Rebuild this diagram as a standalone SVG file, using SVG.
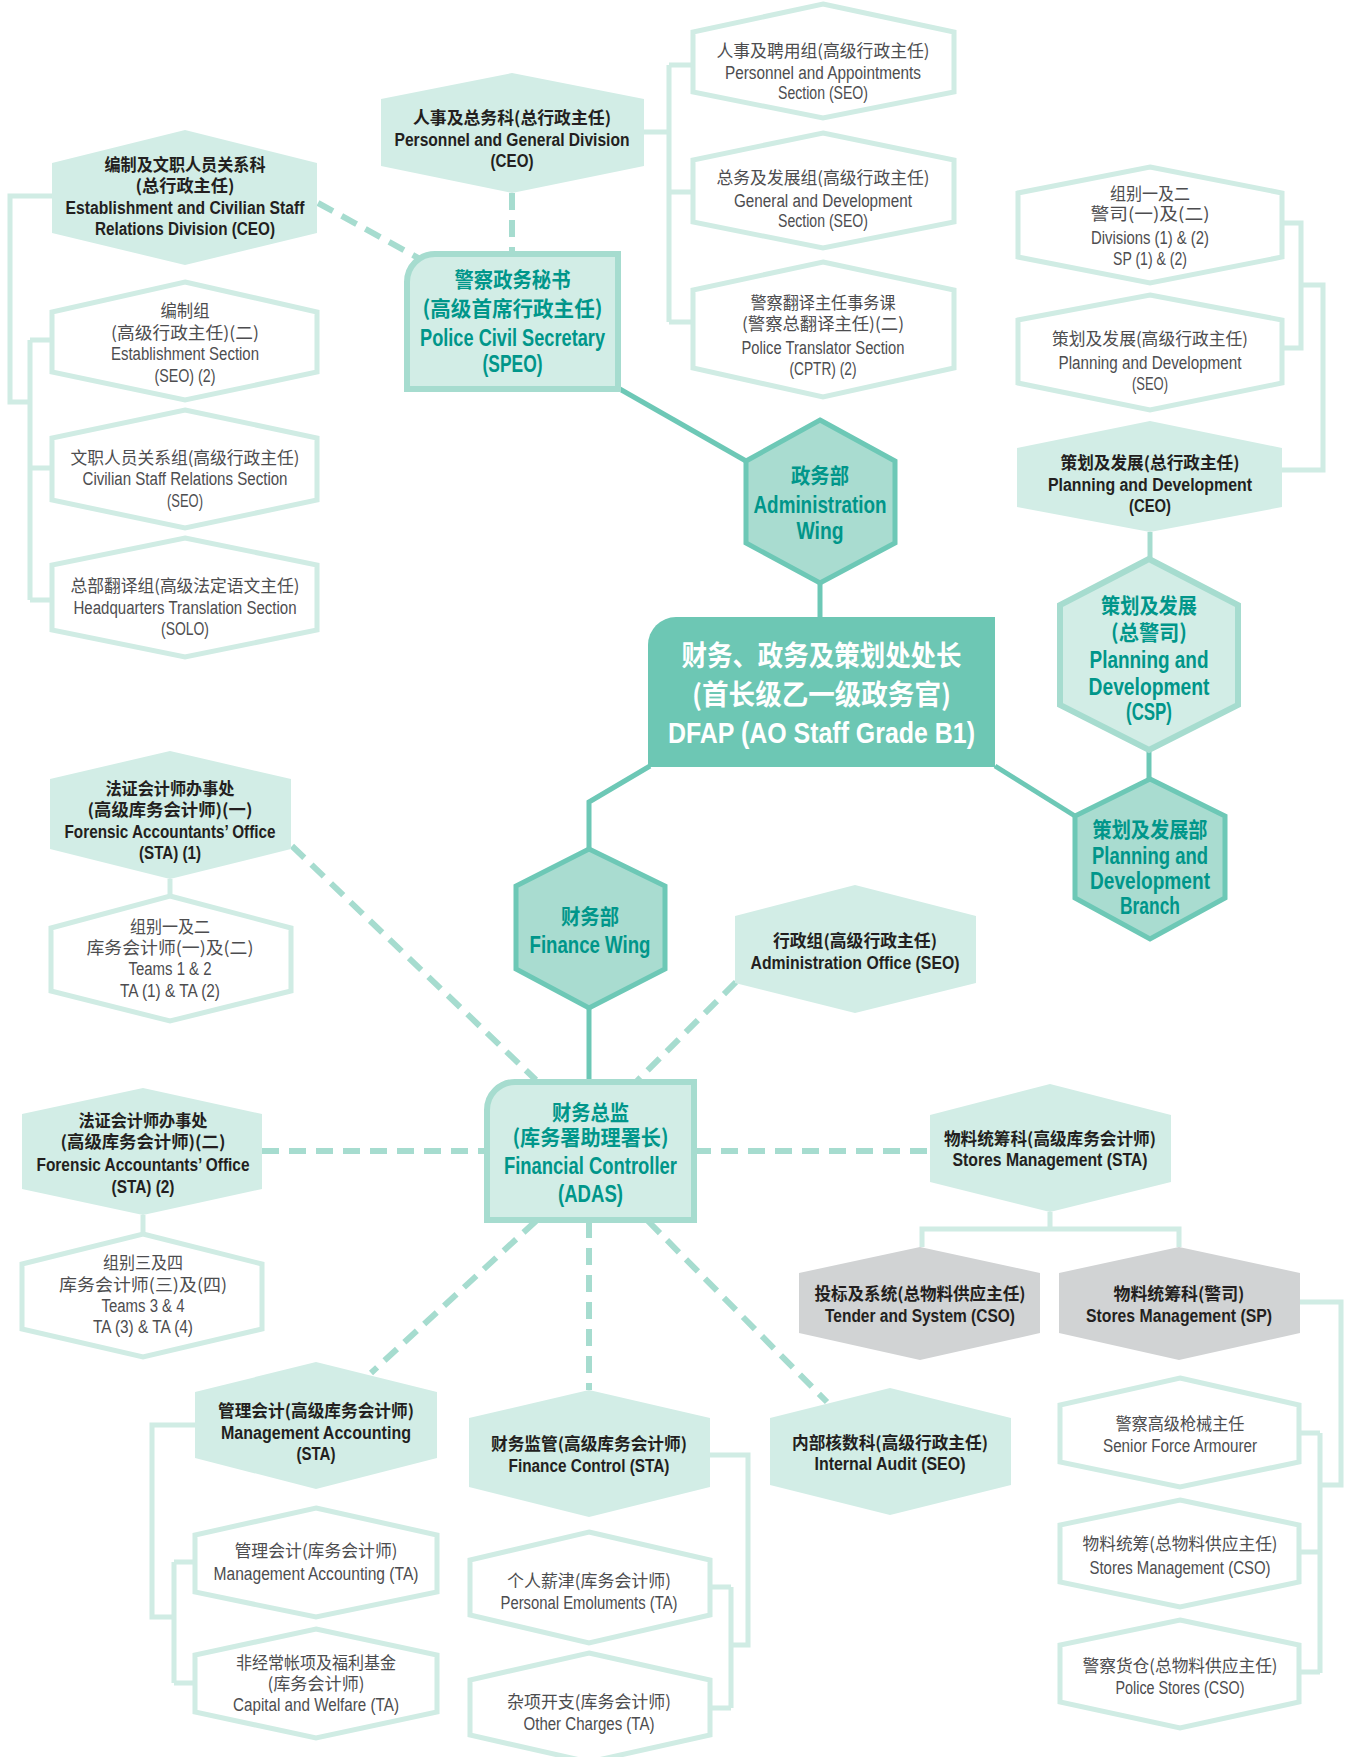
<svg xmlns="http://www.w3.org/2000/svg" width="1349" height="1757" viewBox="0 0 1349 1757">
<style>
text{text-anchor:middle}
.hm{fill:#d2ede6}
.hw{fill:#fff;stroke:#d0ece4;stroke-width:5}
.hg{fill:#d1d3d4}
.wing{fill:#a9dcd0;stroke:#6dc8b6;stroke-width:5}
.box{fill:#d2ede6;stroke:#a6dccf;stroke-width:6}
.top{fill:#6dc7b4}
.solid{fill:none;stroke:#6dc8b6;stroke-width:5}
.lt{fill:none;stroke:#d0ece4;stroke-width:5}
.lm{fill:none;stroke:#a6dccf;stroke-width:5}
.dash{fill:none;stroke:#a6dccf;stroke-width:6;stroke-dasharray:17 10}
.cb{font-family:"Noto Sans CJK SC",sans-serif;font-weight:700;font-size:17px;fill:#231f20}
.eb{font-family:"Liberation Sans Narrow","Liberation Sans",sans-serif;font-weight:700;font-size:18px;fill:#231f20}
.cr{font-family:"Noto Sans CJK SC",sans-serif;font-weight:400;font-size:17px;fill:#4d4d4f}
.er{font-family:"Liberation Sans Narrow","Liberation Sans",sans-serif;font-weight:400;font-size:18px;fill:#4d4d4f}
.tc{font-family:"Noto Sans CJK SC",sans-serif;font-weight:700;font-size:21px;fill:#00968a}
.te{font-family:"Liberation Sans Narrow","Liberation Sans",sans-serif;font-weight:700;font-size:23px;fill:#00968a}
.dc{font-family:"Noto Sans CJK SC",sans-serif;font-weight:700;font-size:28px;fill:#fff}
.de{font-family:"Liberation Sans Narrow","Liberation Sans",sans-serif;font-weight:700;font-size:30px;fill:#fff}
</style>
<rect width="1349" height="1757" fill="#fff"/>

<g id="connectors">
  <path class="dash" d="M512,193 V254"/>
  <path class="dash" d="M318,203 L420,259"/>
  <path class="solid" d="M618,388 L746,461"/>
  <path class="solid" d="M820,583 V617"/>
  <path class="lt" d="M644,132 H669 M669,65 V322 M669,65 H693 M669,192 H693 M669,322 H693"/>
  <path class="lt" d="M52,196 H10 V402 H30 M30,340 V600 M30,340 H52 M30,468 H52 M30,600 H52"/>
  <path class="lt" d="M1282,223 H1301 V348 H1282 M1301,285 H1323 V470 H1282"/>
  <path class="lm" d="M1150,532 V559"/>
  <path class="solid" d="M1149,750 V779"/>
  <path class="solid" d="M995,766 L1075,816"/>
  <path class="solid" d="M650,766 L589,802 V849"/>
  <path class="solid" d="M589,1008 V1082"/>
  <path class="lt" d="M170,879 V896"/>
  <path class="dash" d="M292,846 L536,1080"/>
  <path class="dash" d="M262,1151 H487"/>
  <path class="lt" d="M143,1215 V1234"/>
  <path class="dash" d="M736,982 L636,1082"/>
  <path class="dash" d="M694,1151 H930"/>
  <path class="lt" d="M1050,1212 V1229 M922,1247 V1229 H1179 V1247"/>
  <path class="lt" d="M1300,1302 H1341 V1485 H1320 M1320,1433 V1673 M1299,1433 H1320 M1299,1552 H1320 M1299,1672 H1320"/>
  <path class="dash" d="M648,1221 L827,1402"/>
  <path class="dash" d="M536,1221 L371,1373"/>
  <path class="dash" d="M589,1221 V1390"/>
  <path class="lt" d="M195,1425 H152 V1617 H174 M174,1562 V1683 M174,1562 H195 M174,1683 H195"/>
  <path class="lt" d="M710,1455 H748 V1645 H731 M731,1587 V1708 M710,1587 H731 M710,1708 H731"/>
</g>

<g id="personnel-general-division">
  <polygon class="hm" points="512,73 644,99 644,166 512,193 381,166 381,99"/>
  <text class="cb" x="512" y="123.5" textLength="198" lengthAdjust="spacingAndGlyphs">人事及总务科(总行政主任)</text>
  <text class="eb" x="512" y="145.5" textLength="235" lengthAdjust="spacingAndGlyphs">Personnel and General Division</text>
  <text class="eb" x="512" y="166.5" textLength="43" lengthAdjust="spacingAndGlyphs">(CEO)</text>
</g>

<g id="establishment-division">
  <polygon class="hm" points="185,130 317,163 317,233 185,265 52,233 52,163"/>
  <text class="cb" x="185" y="170.5" textLength="161" lengthAdjust="spacingAndGlyphs">编制及文职人员关系科</text>
  <text class="cb" x="185" y="191.5" textLength="99" lengthAdjust="spacingAndGlyphs">(总行政主任)</text>
  <text class="eb" x="185" y="213.5" textLength="239" lengthAdjust="spacingAndGlyphs">Establishment and Civilian Staff</text>
  <text class="eb" x="185" y="234.5" textLength="180" lengthAdjust="spacingAndGlyphs">Relations Division (CEO)</text>
</g>

<g id="speo">
  <path class="box" d="M407,282 A28,28 0 0 1 435,254 H618 V389 H407 Z"/>
  <text class="tc" x="512.5" y="287" textLength="116" lengthAdjust="spacingAndGlyphs">警察政务秘书</text>
  <text class="tc" x="512.5" y="316" textLength="180" lengthAdjust="spacingAndGlyphs">(高级首席行政主任)</text>
  <text class="te" x="512.5" y="345.5" textLength="185" lengthAdjust="spacingAndGlyphs">Police Civil Secretary</text>
  <text class="te" x="512.5" y="371.5" textLength="60" lengthAdjust="spacingAndGlyphs">(SPEO)</text>
</g>

<g id="admin-wing">
  <polygon class="wing" points="820,420 895,461 895,543 820,583 746,543 746,461"/>
  <text class="tc" x="820" y="483" textLength="58" lengthAdjust="spacingAndGlyphs">政务部</text>
  <text class="te" x="820" y="512.5" textLength="133" lengthAdjust="spacingAndGlyphs">Administration</text>
  <text class="te" x="820" y="538.5" textLength="47" lengthAdjust="spacingAndGlyphs">Wing</text>
</g>

<g id="dfap">
  <path class="top" d="M648,645 A28,28 0 0 1 676,617 H995 V767 H648 Z"/>
  <text class="dc" x="821.5" y="665.5" textLength="280" lengthAdjust="spacingAndGlyphs">财务、政务及策划处处长</text>
  <text class="dc" x="821.5" y="704.5" textLength="259" lengthAdjust="spacingAndGlyphs">(首长级乙一级政务官)</text>
  <text class="de" x="821.5" y="742.5" textLength="307" lengthAdjust="spacingAndGlyphs">DFAP (AO Staff Grade B1)</text>
</g>

<g id="personnel-appointments">
  <polygon class="hw" points="823,4 954,32 954,92 823,118 693,92 693,32"/>
  <text class="cr" x="823" y="56.5" textLength="213" lengthAdjust="spacingAndGlyphs">人事及聘用组(高级行政主任)</text>
  <text class="er" x="823" y="78.5" textLength="196" lengthAdjust="spacingAndGlyphs">Personnel and Appointments</text>
  <text class="er" x="823" y="98.5" textLength="90" lengthAdjust="spacingAndGlyphs">Section (SEO)</text>
</g>

<g id="general-development">
  <polygon class="hw" points="823,133 954,160 954,222 823,248 693,222 693,160"/>
  <text class="cr" x="823" y="183.5" textLength="213" lengthAdjust="spacingAndGlyphs">总务及发展组(高级行政主任)</text>
  <text class="er" x="823" y="206.5" textLength="178" lengthAdjust="spacingAndGlyphs">General and Development</text>
  <text class="er" x="823" y="226.5" textLength="90" lengthAdjust="spacingAndGlyphs">Section (SEO)</text>
</g>

<g id="police-translator">
  <polygon class="hw" points="823,262 954,290 954,368 823,397 693,368 693,290"/>
  <text class="cr" x="823" y="308.5" textLength="145" lengthAdjust="spacingAndGlyphs">警察翻译主任事务课</text>
  <text class="cr" x="823" y="329.5" textLength="162" lengthAdjust="spacingAndGlyphs">(警察总翻译主任)(二)</text>
  <text class="er" x="823" y="353.5" textLength="163" lengthAdjust="spacingAndGlyphs">Police Translator Section</text>
  <text class="er" x="823" y="374.5" textLength="67" lengthAdjust="spacingAndGlyphs">(CPTR) (2)</text>
</g>

<g id="establishment-section">
  <polygon class="hw" points="185,282 317,312 317,372 185,400 52,372 52,312"/>
  <text class="cr" x="185" y="316.5" textLength="49" lengthAdjust="spacingAndGlyphs">编制组</text>
  <text class="cr" x="185" y="338.5" textLength="148" lengthAdjust="spacingAndGlyphs">(高级行政主任)(二)</text>
  <text class="er" x="185" y="359.5" textLength="148" lengthAdjust="spacingAndGlyphs">Establishment Section</text>
  <text class="er" x="185" y="381.5" textLength="61" lengthAdjust="spacingAndGlyphs">(SEO) (2)</text>
</g>

<g id="civilian-staff-relations">
  <polygon class="hw" points="185,410 317,438 317,500 185,528 52,500 52,438"/>
  <text class="cr" x="185" y="463.5" textLength="229" lengthAdjust="spacingAndGlyphs">文职人员关系组(高级行政主任)</text>
  <text class="er" x="185" y="484.5" textLength="205" lengthAdjust="spacingAndGlyphs">Civilian Staff Relations Section</text>
  <text class="er" x="185" y="506.5" textLength="36" lengthAdjust="spacingAndGlyphs">(SEO)</text>
</g>

<g id="hq-translation">
  <polygon class="hw" points="185,538 317,565 317,630 185,657 52,630 52,565"/>
  <text class="cr" x="185" y="591.5" textLength="229" lengthAdjust="spacingAndGlyphs">总部翻译组(高级法定语文主任)</text>
  <text class="er" x="185" y="613.5" textLength="223" lengthAdjust="spacingAndGlyphs">Headquarters Translation Section</text>
  <text class="er" x="185" y="634.5" textLength="48" lengthAdjust="spacingAndGlyphs">(SOLO)</text>
</g>

<g id="divisions">
  <polygon class="hw" points="1150,167 1282,193 1282,257 1150,283 1018,257 1018,193"/>
  <text class="cr" x="1150" y="199.5" textLength="80" lengthAdjust="spacingAndGlyphs">组别一及二</text>
  <text class="cr" x="1150" y="220" textLength="119" lengthAdjust="spacingAndGlyphs">警司(一)及(二)</text>
  <text class="er" x="1150" y="243.5" textLength="118" lengthAdjust="spacingAndGlyphs">Divisions (1) &amp; (2)</text>
  <text class="er" x="1150" y="264.5" textLength="74" lengthAdjust="spacingAndGlyphs">SP (1) &amp; (2)</text>
</g>

<g id="planning-seo">
  <polygon class="hw" points="1150,295 1282,320 1282,383 1150,410 1018,383 1018,320"/>
  <text class="cr" x="1150" y="344.5" textLength="196" lengthAdjust="spacingAndGlyphs">策划及发展(高级行政主任)</text>
  <text class="er" x="1150" y="368.5" textLength="183" lengthAdjust="spacingAndGlyphs">Planning and Development</text>
  <text class="er" x="1150" y="389.5" textLength="36" lengthAdjust="spacingAndGlyphs">(SEO)</text>
</g>

<g id="planning-ceo">
  <polygon class="hm" points="1150,421 1282,448 1282,507 1150,532 1017,507 1017,448"/>
  <text class="cb" x="1150" y="468.5" textLength="179" lengthAdjust="spacingAndGlyphs">策划及发展(总行政主任)</text>
  <text class="eb" x="1150" y="490.5" textLength="204" lengthAdjust="spacingAndGlyphs">Planning and Development</text>
  <text class="eb" x="1150" y="511.5" textLength="42" lengthAdjust="spacingAndGlyphs">(CEO)</text>
</g>

<g id="planning-csp">
  <polygon class="box" points="1149,559 1238,605 1238,705 1149,750 1060,705 1060,605"/>
  <text class="tc" x="1149" y="613" textLength="96" lengthAdjust="spacingAndGlyphs">策划及发展</text>
  <text class="tc" x="1149" y="640" textLength="76" lengthAdjust="spacingAndGlyphs">(总警司)</text>
  <text class="te" x="1149" y="667.5" textLength="119" lengthAdjust="spacingAndGlyphs">Planning and</text>
  <text class="te" x="1149" y="694.5" textLength="121" lengthAdjust="spacingAndGlyphs">Development</text>
  <text class="te" x="1149" y="719.5" textLength="46" lengthAdjust="spacingAndGlyphs">(CSP)</text>
</g>

<g id="planning-branch">
  <polygon class="wing" points="1150,779 1225,816 1225,898 1150,939 1075,898 1075,816"/>
  <text class="tc" x="1150" y="837" textLength="115" lengthAdjust="spacingAndGlyphs">策划及发展部</text>
  <text class="te" x="1150" y="863.5" textLength="116" lengthAdjust="spacingAndGlyphs">Planning and</text>
  <text class="te" x="1150" y="888.5" textLength="120" lengthAdjust="spacingAndGlyphs">Development</text>
  <text class="te" x="1150" y="913.5" textLength="60" lengthAdjust="spacingAndGlyphs">Branch</text>
</g>

<g id="finance-wing">
  <polygon class="wing" points="589,849 665,886 665,969 589,1008 516,969 516,886"/>
  <text class="tc" x="590" y="924" textLength="58" lengthAdjust="spacingAndGlyphs">财务部</text>
  <text class="te" x="590" y="952.5" textLength="121" lengthAdjust="spacingAndGlyphs">Finance Wing</text>
</g>

<g id="financial-controller">
  <path class="box" d="M487,1110 A28,28 0 0 1 515,1082 H694 V1220 H487 Z"/>
  <text class="tc" x="590.5" y="1120" textLength="77" lengthAdjust="spacingAndGlyphs">财务总监</text>
  <text class="tc" x="590.5" y="1145" textLength="156" lengthAdjust="spacingAndGlyphs">(库务署助理署长)</text>
  <text class="te" x="590.5" y="1173.5" textLength="173" lengthAdjust="spacingAndGlyphs">Financial Controller</text>
  <text class="te" x="590.5" y="1201.5" textLength="65" lengthAdjust="spacingAndGlyphs">(ADAS)</text>
</g>

<g id="forensic-1">
  <polygon class="hm" points="170,751 291,779 291,849 170,879 50,849 50,779"/>
  <text class="cb" x="170" y="794.5" textLength="129" lengthAdjust="spacingAndGlyphs">法证会计师办事处</text>
  <text class="cb" x="170" y="815.5" textLength="165" lengthAdjust="spacingAndGlyphs">(高级库务会计师)(一)</text>
  <text class="eb" x="170" y="837.5" textLength="211" lengthAdjust="spacingAndGlyphs">Forensic Accountants’ Office</text>
  <text class="eb" x="170" y="858.5" textLength="62" lengthAdjust="spacingAndGlyphs">(STA) (1)</text>
</g>

<g id="teams-1-2">
  <polygon class="hw" points="170,896 291,928 291,991 170,1021 51,991 51,928"/>
  <text class="cr" x="170" y="932.5" textLength="80" lengthAdjust="spacingAndGlyphs">组别一及二</text>
  <text class="cr" x="170" y="953.5" textLength="167" lengthAdjust="spacingAndGlyphs">库务会计师(一)及(二)</text>
  <text class="er" x="170" y="974.5" textLength="83" lengthAdjust="spacingAndGlyphs">Teams 1 &amp; 2</text>
  <text class="er" x="170" y="996.5" textLength="100" lengthAdjust="spacingAndGlyphs">TA (1) &amp; TA (2)</text>
</g>

<g id="forensic-2">
  <polygon class="hm" points="143,1088 262,1114 262,1189 143,1215 22,1189 22,1114"/>
  <text class="cb" x="143" y="1126.5" textLength="129" lengthAdjust="spacingAndGlyphs">法证会计师办事处</text>
  <text class="cb" x="143" y="1147.5" textLength="165" lengthAdjust="spacingAndGlyphs">(高级库务会计师)(二)</text>
  <text class="eb" x="143" y="1170.5" textLength="213" lengthAdjust="spacingAndGlyphs">Forensic Accountants’ Office</text>
  <text class="eb" x="143" y="1192.5" textLength="63" lengthAdjust="spacingAndGlyphs">(STA) (2)</text>
</g>

<g id="teams-3-4">
  <polygon class="hw" points="143,1234 262,1264 262,1329 143,1357 22,1329 22,1264"/>
  <text class="cr" x="143" y="1268.5" textLength="80" lengthAdjust="spacingAndGlyphs">组别三及四</text>
  <text class="cr" x="143" y="1290.5" textLength="168" lengthAdjust="spacingAndGlyphs">库务会计师(三)及(四)</text>
  <text class="er" x="143" y="1311.5" textLength="83" lengthAdjust="spacingAndGlyphs">Teams 3 &amp; 4</text>
  <text class="er" x="143" y="1332.5" textLength="100" lengthAdjust="spacingAndGlyphs">TA (3) &amp; TA (4)</text>
</g>

<g id="administration-office">
  <polygon class="hm" points="855,885 976,916 976,983 855,1013 735,983 735,916"/>
  <text class="cb" x="855" y="946.5" textLength="164" lengthAdjust="spacingAndGlyphs">行政组(高级行政主任)</text>
  <text class="eb" x="855" y="968.5" textLength="209" lengthAdjust="spacingAndGlyphs">Administration Office (SEO)</text>
</g>

<g id="stores-management-sta">
  <polygon class="hm" points="1050,1084 1171,1115 1171,1182 1050,1212 930,1182 930,1115"/>
  <text class="cb" x="1050" y="1144.5" textLength="212" lengthAdjust="spacingAndGlyphs">物料统筹科(高级库务会计师)</text>
  <text class="eb" x="1050" y="1165.5" textLength="195" lengthAdjust="spacingAndGlyphs">Stores Management (STA)</text>
</g>

<g id="tender-system">
  <polygon class="hg" points="920,1247 1040,1273 1040,1333 920,1360 799,1333 799,1273"/>
  <text class="cb" x="920" y="1299.5" textLength="211" lengthAdjust="spacingAndGlyphs">投标及系统(总物料供应主任)</text>
  <text class="eb" x="920" y="1321.5" textLength="190" lengthAdjust="spacingAndGlyphs">Tender and System (CSO)</text>
</g>

<g id="stores-management-sp">
  <polygon class="hg" points="1179,1247 1300,1273 1300,1333 1179,1360 1059,1333 1059,1273"/>
  <text class="cb" x="1179" y="1299.5" textLength="131" lengthAdjust="spacingAndGlyphs">物料统筹科(警司)</text>
  <text class="eb" x="1179" y="1321.5" textLength="186" lengthAdjust="spacingAndGlyphs">Stores Management (SP)</text>
</g>

<g id="senior-force-armourer">
  <polygon class="hw" points="1180,1378 1299,1405 1299,1462 1180,1487 1060,1462 1060,1405"/>
  <text class="cr" x="1180" y="1429.5" textLength="129" lengthAdjust="spacingAndGlyphs">警察高级枪械主任</text>
  <text class="er" x="1180" y="1451.5" textLength="154" lengthAdjust="spacingAndGlyphs">Senior Force Armourer</text>
</g>

<g id="stores-management-cso">
  <polygon class="hw" points="1180,1500 1299,1525 1299,1582 1180,1607 1060,1582 1060,1525"/>
  <text class="cr" x="1180" y="1549.5" textLength="195" lengthAdjust="spacingAndGlyphs">物料统筹(总物料供应主任)</text>
  <text class="er" x="1180" y="1573.5" textLength="181" lengthAdjust="spacingAndGlyphs">Stores Management (CSO)</text>
</g>

<g id="police-stores">
  <polygon class="hw" points="1180,1620 1299,1645 1299,1702 1180,1728 1060,1702 1060,1645"/>
  <text class="cr" x="1180" y="1671.5" textLength="195" lengthAdjust="spacingAndGlyphs">警察货仓(总物料供应主任)</text>
  <text class="er" x="1180" y="1693.5" textLength="129" lengthAdjust="spacingAndGlyphs">Police Stores (CSO)</text>
</g>

<g id="internal-audit">
  <polygon class="hm" points="890,1388 1011,1418 1011,1485 890,1515 770,1485 770,1418"/>
  <text class="cb" x="890" y="1448.5" textLength="196" lengthAdjust="spacingAndGlyphs">内部核数科(高级行政主任)</text>
  <text class="eb" x="890" y="1469.5" textLength="151" lengthAdjust="spacingAndGlyphs">Internal Audit (SEO)</text>
</g>

<g id="management-accounting-sta">
  <polygon class="hm" points="316,1362 437,1392 437,1458 316,1489 195,1458 195,1392"/>
  <text class="cb" x="316" y="1416.5" textLength="196" lengthAdjust="spacingAndGlyphs">管理会计(高级库务会计师)</text>
  <text class="eb" x="316" y="1438.5" textLength="190" lengthAdjust="spacingAndGlyphs">Management Accounting</text>
  <text class="eb" x="316" y="1459.5" textLength="39" lengthAdjust="spacingAndGlyphs">(STA)</text>
</g>

<g id="finance-control">
  <polygon class="hm" points="589,1390 710,1418 710,1487 589,1517 469,1487 469,1418"/>
  <text class="cb" x="589" y="1449.5" textLength="196" lengthAdjust="spacingAndGlyphs">财务监管(高级库务会计师)</text>
  <text class="eb" x="589" y="1471.5" textLength="161" lengthAdjust="spacingAndGlyphs">Finance Control (STA)</text>
</g>

<g id="management-accounting-ta">
  <polygon class="hw" points="316,1508 437,1535 437,1592 316,1617 195,1592 195,1535"/>
  <text class="cr" x="316" y="1556.5" textLength="163" lengthAdjust="spacingAndGlyphs">管理会计(库务会计师)</text>
  <text class="er" x="316" y="1579.5" textLength="205" lengthAdjust="spacingAndGlyphs">Management Accounting (TA)</text>
</g>

<g id="capital-welfare">
  <polygon class="hw" points="316,1629 437,1655 437,1712 316,1738 195,1712 195,1655"/>
  <text class="cr" x="316" y="1668.5" textLength="160" lengthAdjust="spacingAndGlyphs">非经常帐项及福利基金</text>
  <text class="cr" x="316" y="1689.5" textLength="97" lengthAdjust="spacingAndGlyphs">(库务会计师)</text>
  <text class="er" x="316" y="1710.5" textLength="166" lengthAdjust="spacingAndGlyphs">Capital and Welfare (TA)</text>
</g>

<g id="personal-emoluments">
  <polygon class="hw" points="589,1532 710,1560 710,1615 589,1643 470,1615 470,1560"/>
  <text class="cr" x="589" y="1586.5" textLength="164" lengthAdjust="spacingAndGlyphs">个人薪津(库务会计师)</text>
  <text class="er" x="589" y="1608.5" textLength="177" lengthAdjust="spacingAndGlyphs">Personal Emoluments (TA)</text>
</g>

<g id="other-charges">
  <polygon class="hw" points="589,1653 710,1680 710,1735 589,1762 470,1735 470,1680"/>
  <text class="cr" x="589" y="1707.5" textLength="164" lengthAdjust="spacingAndGlyphs">杂项开支(库务会计师)</text>
  <text class="er" x="589" y="1729.5" textLength="131" lengthAdjust="spacingAndGlyphs">Other Charges (TA)</text>
</g>
</svg>
